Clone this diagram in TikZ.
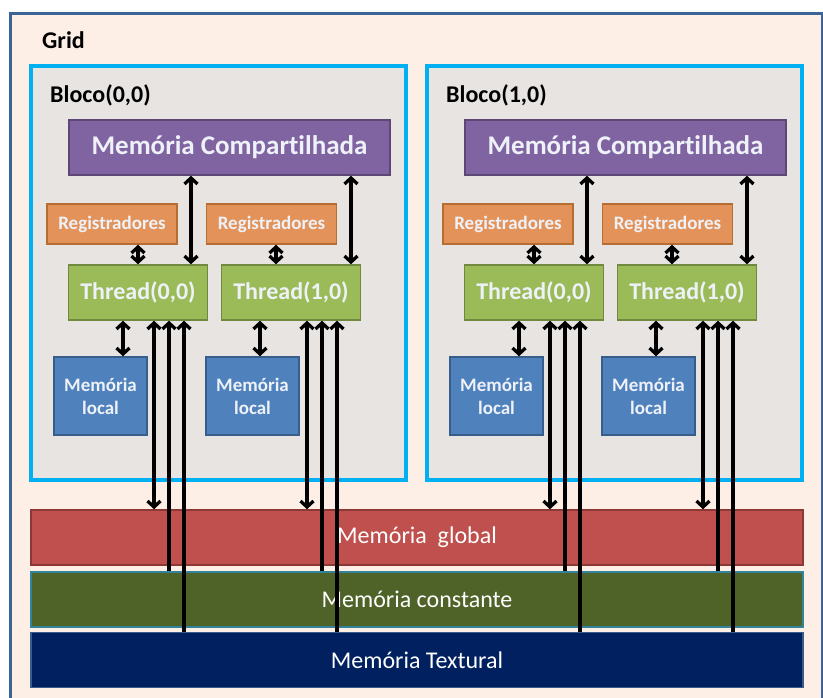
\documentclass[tikz,border=0pt]{standalone}
\usepackage{fontspec}
\setmainfont{Carlito}[Ligatures=NoCommon]
\usetikzlibrary{arrows.meta}
\definecolor{gridfill}{HTML}{FDEFE6}
\definecolor{gridline}{HTML}{3B6396}
\definecolor{blockfill}{HTML}{E8E4E1}
\definecolor{blockline}{HTML}{00B0F0}
\definecolor{smfill}{HTML}{8064A2}
\definecolor{smline}{HTML}{5C4776}
\definecolor{regfill}{HTML}{E3935A}
\definecolor{regline}{HTML}{B66D31}
\definecolor{thfill}{HTML}{9BBB59}
\definecolor{thline}{HTML}{71893F}
\definecolor{locfill}{HTML}{4F81BD}
\definecolor{locline}{HTML}{385D8A}
\definecolor{glfill}{HTML}{C0504D}
\definecolor{glline}{HTML}{8C3836}
\definecolor{cofill}{HTML}{4F6228}
\definecolor{coline}{HTML}{31849B}
\definecolor{txfill}{HTML}{002060}
\definecolor{txline}{HTML}{385D8A}
\definecolor{boxtext}{HTML}{EEF2F8}
\begin{document}
\begin{tikzpicture}[x=1pt,y=-1pt,
  box/.style={draw, line width=1.5pt, inner sep=0pt, text=boxtext, font=\bfseries, align=center},
  shared/.style={box, fill=smfill, draw=smline, minimum width=321pt, minimum height=55pt, font=\fontsize{27}{30}\selectfont\bfseries},
  regs/.style={box, fill=regfill, draw=regline, minimum width=130pt, minimum height=40pt, font=\fontsize{19}{22}\selectfont\bfseries},
  thread/.style={box, fill=thfill, draw=thline, minimum width=139pt, minimum height=55pt, font=\fontsize{24}{28}\selectfont\bfseries},
  local/.style={box, fill=locfill, draw=locline, minimum width=93pt, minimum height=78pt, font=\fontsize{19}{23}\selectfont\bfseries},
  membar/.style={draw, line width=1.5pt, inner sep=0pt, text=white, minimum width=772pt, minimum height=55pt, font=\fontsize{24}{27}\selectfont},
  block/.style={draw=blockline, fill=blockfill, line width=3.5pt},
  title/.style={anchor=west, inner sep=0pt, font=\fontsize{24}{27}\selectfont\bfseries},
  link/.style={line width=3.3pt, {Straight Barb[length=6pt,width=13pt]}-{Straight Barb[length=6pt,width=13pt]}},
  uplink/.style={line width=3.3pt, {Straight Barb[length=6pt,width=13pt]}-}
]
\useasboundingbox (0,0) rectangle (823,698);
\fill[white] (0,0) rectangle (823,698);

% grid frame
\draw[gridline, fill=gridfill, line width=3pt] (10,14) rectangle (822,710);
\node[title] (gridlbl) at (42,40) {Grid};

% memory bars shared by all blocks
\node[membar, fill=glfill, draw=glline] (gm) at (417,537.5) {Memória\ \ global};
\node[membar, fill=cofill, draw=coline] (cm) at (417,599.5) {Memória constante};
\node[membar, fill=txfill, draw=txline] (tm) at (417,660) {Memória Textural};

% one thread block; #1 = name prefix, #2 = horizontal offset, #3 = block label
\newcommand{\drawblock}[3]{%
  \begin{scope}[xshift=#2pt]
    \draw[block] (31,66) rectangle (406,480);
    \node[title] (#1lbl) at (50,95) {#3};
    \node[shared] (#1sm) at (229.5,147.5) {Memória Compartilhada};
    \node[regs] (#1r0) at (112,224) {Registradores};
    \node[regs] (#1r1) at (271.5,224) {Registradores};
    \node[thread] (#1t0) at (138,292.5) {Thread(0,0)};
    \node[thread] (#1t1) at (291,292.5) {Thread(1,0)};
    \node[local] (#1l0) at (100.5,396) {Memória\\local};
    \node[local] (#1l1) at (252.5,396) {Memória\\local};
  \end{scope}
  % registers <-> threads
  \draw[link] (#1t0.north |- #1r0.south) -- (#1t0.north);
  \draw[link] ([xshift=-15pt]#1t1.north |- #1r1.south) -- ([xshift=-15pt]#1t1.north);
  % shared memory <-> threads
  \draw[link] ([xshift=53pt]#1t0.north |- #1sm.south) -- ([xshift=53pt]#1t0.north);
  \draw[link] ([xshift=60pt]#1t1.north |- #1sm.south) -- ([xshift=60pt]#1t1.north);
  % threads <-> local memory
  \draw[link] ([xshift=-15pt]#1t0.south) -- ([xshift=-15pt]#1t0.south |- #1l0.north);
  \draw[link] ([xshift=-31pt]#1t1.south) -- ([xshift=-31pt]#1t1.south |- #1l1.north);
  % threads <-> global, constant and texture memory
  \foreach \t in {t0,t1}{%
    \draw[link] ([xshift=16pt]#1\t.south) -- ([xshift=16pt]#1\t.south |- gm.north);
    \draw[uplink] ([xshift=31pt]#1\t.south) -- ([xshift=31pt]#1\t.south |- cm.north);
    \draw[uplink] ([xshift=46pt]#1\t.south) -- ([xshift=46pt]#1\t.south |- tm.north);
  }%
}
\drawblock{a}{0}{Bloco(0,0)}
\drawblock{b}{396}{Bloco(1,0)}
\end{tikzpicture}
\end{document}
